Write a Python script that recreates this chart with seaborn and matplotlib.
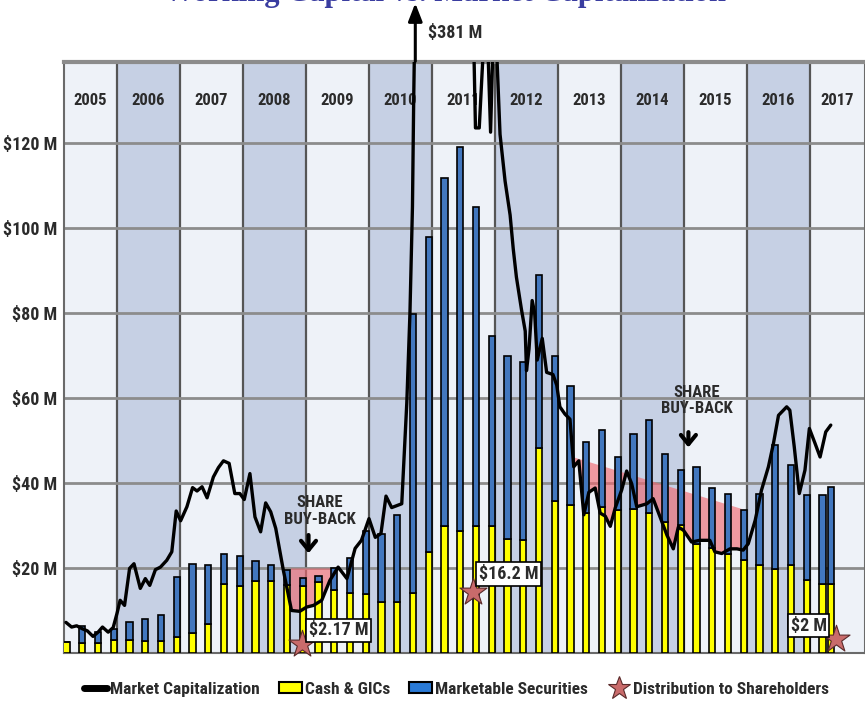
import os
import numpy as np
import matplotlib
matplotlib.use("Agg")
import matplotlib.pyplot as plt
import seaborn as sns
from matplotlib import font_manager as fm
from matplotlib.lines import Line2D
from matplotlib.patches import Patch

sns.set_theme(style="white")


def pick_narrow_font():
    # the reference uses a condensed bold sans; take one if the box has it
    keys = ['liberationsansnarrow-bold', 'robotocondensed-bold', 'dejavusanscondensed-bold',
            'notosans-condensedbold', 'opensans-condensedbold', 'condensed', 'narrow']
    for key in keys:
        for f in fm.fontManager.ttflist:
            if key in os.path.basename(f.fname).lower():
                return f
    return None


narrow = pick_narrow_font()
if narrow is not None:
    plt.rcParams['font.family'] = [narrow.name, 'DejaVu Sans']
    plt.rcParams['font.stretch'] = narrow.stretch
    fs = 1.0
else:
    plt.rcParams['font.family'] = ['Liberation Sans', 'DejaVu Sans']
    fs = 0.8
plt.rcParams['font.weight'] = 'bold'

# ---- data ($ millions) ----
years = list(range(2005, 2018))
bar_year = list(np.arange(2005.2, 2017.3, 0.25)) + [2017.33]
cash = [2.6, 2.4, 2.3, 3.0, 3.0, 2.8, 2.8, 3.7, 4.8, 6.9,
        16.2, 15.8, 16.9, 16.9, 15.9, 15.8, 16.8, 14.8, 14.2, 13.9,
        12.0, 12.0, 14.0, 23.7, 29.9, 28.6, 29.8, 29.8, 26.8, 26.5,
        48.2, 35.8, 34.9, 33.0, 34.3, 33.6, 33.8, 32.9, 30.8, 30.0,
        25.7, 24.8, 23.4, 21.8, 20.8, 19.8, 20.6, 17.1, 16.3, 16.3]
securities = [0.0, 4.0, 2.7, 2.6, 4.2, 5.1, 6.2, 14.1, 16.1, 13.8,
              7.0, 7.0, 4.7, 3.7, 3.6, 1.8, 1.3, 5.1, 8.2, 14.7,
              16.1, 20.4, 65.7, 74.2, 81.8, 90.3, 75.1, 44.7, 43.1, 41.9,
              40.8, 34.1, 27.8, 16.6, 18.2, 12.5, 17.7, 22.0, 15.9, 13.1,
              18.1, 14.0, 13.9, 11.8, 16.5, 29.1, 23.6, 20.0, 20.8, 22.8]

mcap_year = [2005.19, 2005.28, 2005.36, 2005.45, 2005.53, 2005.62, 2005.70, 2005.77, 2005.86, 2005.94,
             2006.00, 2006.05, 2006.12, 2006.20, 2006.27, 2006.37, 2006.45, 2006.52, 2006.61, 2006.69,
             2006.79, 2006.87, 2006.94, 2007.01, 2007.11, 2007.20, 2007.27, 2007.35, 2007.43, 2007.53,
             2007.61, 2007.69, 2007.78, 2007.87, 2007.95, 2008.02, 2008.11, 2008.19, 2008.28, 2008.36,
             2008.44, 2008.52, 2008.64, 2008.77, 2008.90, 2009.01, 2009.12, 2009.25, 2009.38, 2009.51,
             2009.65, 2009.78, 2009.88, 2010.00, 2010.10, 2010.19, 2010.27, 2010.36, 2010.52, 2010.60,
             2010.65, 2010.69, 2010.71, 2010.78, 2011.00, 2011.20, 2011.45, 2011.64, 2011.69, 2011.75,
             2011.86, 2011.93, 2011.99, 2012.08, 2012.16, 2012.24, 2012.29, 2012.34, 2012.42, 2012.48,
             2012.50, 2012.54, 2012.59, 2012.63, 2012.67, 2012.75, 2012.82, 2012.92, 2012.98, 2013.03,
             2013.11, 2013.19, 2013.25, 2013.33, 2013.41, 2013.49, 2013.59, 2013.67, 2013.75, 2013.83,
             2013.91, 2014.01, 2014.09, 2014.17, 2014.25, 2014.41, 2014.51, 2014.62, 2014.73, 2014.83,
             2014.91, 2014.99, 2015.12, 2015.25, 2015.41, 2015.49, 2015.60, 2015.73, 2015.84, 2015.94,
             2016.02, 2016.13, 2016.23, 2016.34, 2016.42, 2016.50, 2016.63, 2016.68, 2016.75, 2016.83,
             2016.92, 2016.99, 2017.08, 2017.16, 2017.25, 2017.33]
mcap_value = [7.2, 6.1, 6.4, 5.7, 5.2, 3.9, 4.9, 6.1, 4.9, 6.0,
              9.3, 12.4, 11.2, 19.9, 21.0, 15.2, 17.5, 15.9, 19.6, 20.2,
              21.8, 23.8, 33.4, 31.1, 34.4, 38.9, 38.1, 39.1, 36.5, 41.4,
              43.6, 45.2, 44.6, 37.5, 37.5, 36.1, 42.2, 32.0, 28.5, 35.3,
              33.2, 29.3, 19.5, 10.0, 9.8, 10.8, 11.2, 12.4, 17.1, 20.2,
              17.5, 24.6, 26.5, 31.6, 27.2, 28.1, 36.9, 34.2, 35.1, 58.8,
              79.9, 105.0, 130.6, 200.0, 300.0, 381.0, 250.0, 160.0, 123.5, 123.5,
              155.0, 122.5, 155.0, 122.0, 111.0, 103.0, 95.0, 88.4, 80.8, 75.7,
              66.4, 71.5, 82.9, 79.9, 68.9, 74.0, 66.0, 65.5, 63.0, 57.9,
              56.2, 55.0, 43.8, 45.2, 32.5, 37.8, 38.8, 32.9, 32.2, 29.8,
              34.2, 38.3, 42.8, 39.8, 34.4, 35.1, 36.3, 32.0, 27.7, 24.5,
              29.6, 28.9, 26.1, 26.5, 26.5, 23.8, 23.4, 24.5, 24.5, 24.2,
              25.7, 31.2, 38.3, 43.8, 49.3, 55.9, 57.9, 57.1, 48.5, 37.5,
              43.0, 52.8, 49.3, 46.1, 52.0, 53.6]

dist_year = [2008.94, 2011.65, 2017.41]
dist_marker = [2.2, 14.4, 3.4]
dist_label = ["$2.17 M", "$16.2 M", "$2 M"]

buyback_start = [2008.75, 2013.25]
buyback_end = [2009.45, 2015.91]
buyback_top_start = [20.0, 46.1]
buyback_top_end = [20.0, 34.0]

# ---- styling ----
TXT = '#2b2b2b'
LIGHT = '#eef2f8'
DARK = '#c6d0e4'
YELLOW = '#ffff00'
BLUE = '#4277be'
PINK = '#ee6a72'
STAR = '#c96b6b'

fig = plt.figure(figsize=(8.65, 7.04), dpi=100)
ax = fig.add_axes([64 / 865, 51 / 704, 801 / 865, 591 / 704])
x0, x1 = 2005.159, 2017.873
ax.set_xlim(x0, x1)
ax.set_ylim(0, 139)

# alternating year columns
for i, yr in enumerate(years):
    ax.axvspan(yr, yr + 1, color=LIGHT if i % 2 == 0 else DARK, zorder=0, lw=0)
    ax.axvline(yr, color='#555555', lw=1.6, zorder=1)
    cx = (max(yr, x0) + min(yr + 1, x1)) / 2
    ax.text(cx, 130, str(yr), ha='center', va='center', fontsize=12 * fs, color=TXT)
for v in range(20, 140, 20):
    ax.axhline(v, color='#8c8c8c', lw=2, zorder=1)

# share buy-back shading
xs = np.linspace(2005, 2018, 2000)
line_i = np.interp(xs, mcap_year, mcap_value)
for s, e, ts, te in zip(buyback_start, buyback_end, buyback_top_start, buyback_top_end):
    m = (xs >= s) & (xs <= e)
    top = np.interp(xs[m], [s, e], [ts, te])
    ax.fill_between(xs[m], np.minimum(line_i[m], top), top, color=PINK, alpha=0.65, lw=0, zorder=2)

# stacked bars
ax.bar(bar_year, cash, width=0.1, color=YELLOW, edgecolor='black', lw=1.2, zorder=3)
ax.bar(bar_year, securities, width=0.1, bottom=cash, color=BLUE, edgecolor='black', lw=1.2, zorder=3)

# market cap line
sns.lineplot(x=mcap_year, y=mcap_value, ax=ax, color='black', lw=2.4, estimator=None, sort=False, zorder=4)

# distributions
sns.scatterplot(x=dist_year, y=dist_marker, ax=ax, marker='*', s=420, color=STAR,
                edgecolor='#5a2a2a', linewidth=0.8, zorder=6, clip_on=False)
label_pos = [(2009.52, 5.3), (2012.22, 18.6), (2016.98, 6.4)]
for (lx, ly), txt in zip(label_pos, dist_label):
    ax.text(lx, ly, txt, ha='center', va='center', fontsize=13 * fs, color=TXT, zorder=7,
            bbox=dict(boxstyle='square,pad=0.15', fc='white', ec='black', lw=1.2))

# buy-back notes
for tx, ty, ax_x, a_top, a_tip in [(2009.22, 33.4, 2009.04, 28.4, 22.8),
                                   (2015.20, 59.4, 2015.07, 52.6, 47.7)]:
    ax.text(tx, ty, "SHARE\nBUY-BACK", ha='center', va='center', fontsize=12 * fs,
            color=TXT, linespacing=1.1, zorder=7)
    ax.annotate('', xy=(ax_x, a_tip), xytext=(ax_x, a_top), zorder=7,
                arrowprops=dict(arrowstyle='->,head_length=0.55,head_width=0.45', color='black', lw=3))

# off-scale peak
ax.annotate('', xy=(2010.735, 153.5), xytext=(2010.735, 138.5), annotation_clip=False,
            arrowprops=dict(arrowstyle='-|>,head_length=0.9,head_width=0.35', color='black', lw=2.2))
ax.text(2011.37, 145.8, "$381 M", ha='center', va='center', fontsize=13 * fs, color=TXT, clip_on=False)

ax.set_yticks(range(20, 140, 20))
ax.set_yticklabels([f"${v} M" for v in range(20, 140, 20)], fontsize=13 * fs, color=TXT)
ax.set_xticks([])
ax.tick_params(axis='y', length=0, pad=5)
ax.set_xlabel('')
ax.set_ylabel('')
for side in ['left', 'right', 'bottom']:
    ax.spines[side].set_color('#6a6a6a')
    ax.spines[side].set_linewidth(1.5)
ax.spines['top'].set_color('#8c8c8c')
ax.spines['top'].set_linewidth(3)

fig.text(0.514, 1 - 1 / 704, "Working Capital vs. Market Capitalization", ha='center', va='baseline',
         fontsize=22, color='#3a3da0', family=['Liberation Serif', 'DejaVu Serif'], weight='bold')

handles = [Line2D([0], [0], color='black', lw=5),
           Patch(fc=YELLOW, ec='black', lw=1.5),
           Patch(fc='#2a7ad6', ec='black', lw=1.5),
           Line2D([0], [0], marker='*', ls='', ms=17, mfc=STAR, mec='#5a2a2a', mew=0.8)]
labels = ["Market Capitalization", "Cash & GICs", "Marketable Securities", "Distribution to Shareholders"]
fig.legend(handles, labels, loc='center', bbox_to_anchor=(0.528, 0.021), ncol=4, frameon=False,
           handlelength=1.3, handleheight=0.6, handletextpad=0.2, columnspacing=1.1,
           prop={'size': 12.5 * fs, 'weight': 'bold'}, labelcolor=TXT)

fig.savefig('out.png', dpi=100)
